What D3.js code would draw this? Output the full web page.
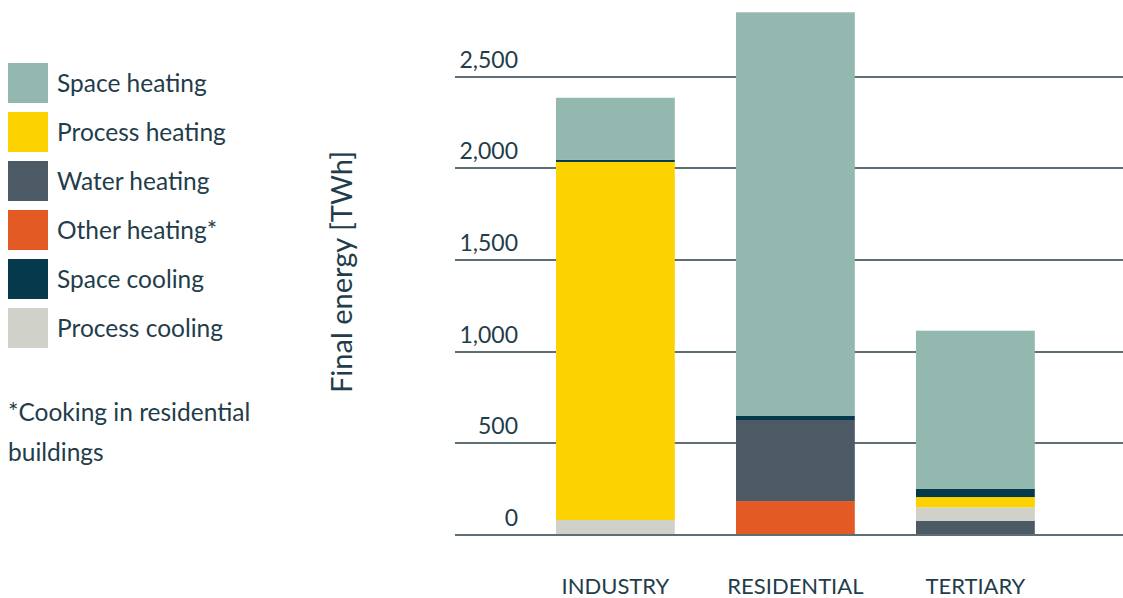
<!DOCTYPE html>
<html>
<meta charset="utf-8">
<style>
body {
  margin: 0;
  background: #fff;
  font-family: 'Lato', sans-serif;
}
text {
  fill: #1f3d4a;
}
.grid line {
  stroke: #5d6f75;
  stroke-width: 2;
  shape-rendering: crispEdges;
}
</style>
<body>
<script src="https://cdn.jsdelivr.net/npm/d3@7"></script>
<script>
var w = 1123;
var h = 598;

// data (TWh)
var sectors = ["INDUSTRY", "RESIDENTIAL", "TERTIARY"];
var otherHeating   = [0, 185, 0];
var waterHeating   = [0, 442, 78];
var processCooling = [82, 0, 73];
var processHeating = [1952, 0, 56];
var spaceCooling   = [11, 22, 44];
var spaceHeating   = [339, 2201, 863];

var yTicks = [0, 500, 1000, 1500, 2000, 2500];

// legend order (top to bottom) and colours
var legendKeys = ["Space heating", "Process heating", "Water heating", "Other heating*", "Space cooling", "Process cooling"];
var colors = ["#93b8b0", "#fcd200", "#4c5a66", "#e35a24", "#053a4c", "#d0d1c9"];

// stacking order, bottom to top
var stackKeys = ["Other heating*", "Water heating", "Process cooling", "Process heating", "Space cooling", "Space heating"];
var seriesByKey = {
  "Other heating*": otherHeating,
  "Water heating": waterHeating,
  "Process cooling": processCooling,
  "Process heating": processHeating,
  "Space cooling": spaceCooling,
  "Space heating": spaceHeating
};

var rows = sectors.map(function(s, i) {
  var r = { sector: s };
  stackKeys.forEach(function(k) { r[k] = seriesByKey[k][i]; });
  return r;
});

var color = d3.scaleOrdinal().domain(legendKeys).range(colors);

var xScale = d3.scaleBand()
    .domain(sectors)
    .range([525.4, 1065.4])
    .paddingInner(0.34)
    .paddingOuter(0.17);

var yScale = d3.scaleLinear()
    .domain([0, 2500])
    .range([535, 76.5]);

var svg = d3.select("body")
    .append("svg")
    .attr("width", w)
    .attr("height", h);

// gridlines
var grid = svg.append("g")
    .attr("class", "grid")
    .selectAll("g")
    .data(yTicks)
    .enter()
    .append("g");

grid.append("line")
    .attr("x1", 455)
    .attr("x2", w)
    .attr("y1", function(d) { return Math.round(yScale(d)); })
    .attr("y2", function(d) { return Math.round(yScale(d)); });

grid.append("text")
    .attr("x", 518)
    .attr("y", function(d) { return yScale(d) - 9; })
    .style("text-anchor", "end")
    .style("font-size", "23px")
    .text(function(d) { return d3.format(",")(d); });

// bars
var stack = d3.stack().keys(stackKeys);
var layers = stack(rows);

svg.append("g")
    .selectAll("g")
    .data(layers)
    .enter()
    .append("g")
    .attr("fill", function(d) { return color(d.key); })
    .selectAll("rect")
    .data(function(d) { return d; })
    .enter()
    .append("rect")
    .attr("x", function(d) { return xScale(d.data.sector); })
    .attr("width", xScale.bandwidth())
    .attr("y", function(d) { return yScale(d[1]); })
    .attr("height", function(d) { return yScale(d[0]) - yScale(d[1]); });

// baseline on top of bars
svg.append("line")
    .attr("x1", 455)
    .attr("x2", w)
    .attr("y1", 535)
    .attr("y2", 535)
    .style("stroke", "#5d6f75")
    .style("stroke-width", 2)
    .style("shape-rendering", "crispEdges");

// category labels
svg.append("g")
    .selectAll("text")
    .data(sectors)
    .enter()
    .append("text")
    .attr("x", function(d) { return xScale(d) + xScale.bandwidth() / 2; })
    .attr("y", 594)
    .style("text-anchor", "middle")
    .style("font-size", "22px")
    .text(function(d) { return d; });

// y axis title
svg.append("text")
    .attr("transform", "translate(352,272) rotate(-90)")
    .style("text-anchor", "middle")
    .style("font-size", "29px")
    .text("Final energy [TWh]");

// legend
var legend = svg.selectAll(".legend")
    .data(legendKeys)
    .enter()
    .append("g")
    .attr("class", "legend")
    .attr("transform", function(d, i) { return "translate(8," + (63 + i * 49) + ")"; });

legend.append("rect")
    .attr("width", 40)
    .attr("height", 40)
    .style("fill", color);

legend.append("text")
    .attr("x", 49)
    .attr("y", 20)
    .attr("dy", ".35em")
    .style("font-size", "24.5px")
    .text(function(d) { return d; });

// footnote
var note = svg.append("text")
    .attr("x", 8)
    .attr("y", 421)
    .style("font-size", "24.5px");
note.append("tspan").attr("x", 8).text("*Cooking in residential");
note.append("tspan").attr("x", 8).attr("dy", 40).text("buildings");
</script>
</body>
</html>
